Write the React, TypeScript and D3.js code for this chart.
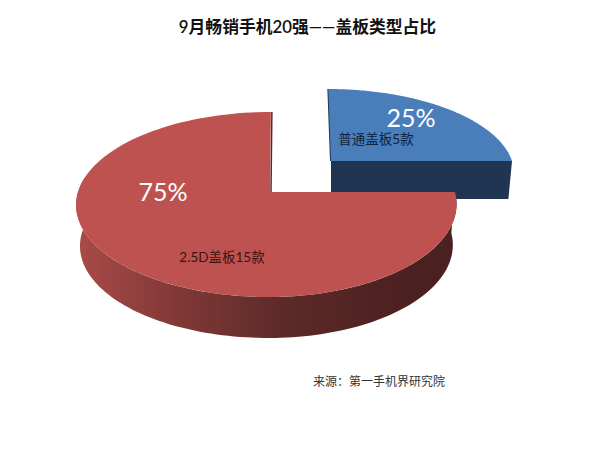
import React from "react";
import * as d3 from "d3";

// data
const categories = ["普通盖板5款", "2.5D盖板15款"];
const modelCounts = [5, 15];
const percentLabels = ["25%", "75%"];
const titleText = "9月畅销手机20强——盖板类型占比";
const sourceText = "来源：第一手机界研究院";

const topColors = ["#4a7ebb", "#be5250"];
const edgeColors = ["#1f3552", "#5c2a28"];

// each slice is pulled out of the pie so it has its own apex
const apexes = [
  { cx: 331, cy: 161, rxLeft: 181, rxRight: 181, ry: 81.7, lean: -3, depth: 38 },
  { cx: 270, cy: 192, rxLeft: 192, rxRight: 185, ry: 90.8, lean: 1, depth: 41 },
];
const perspective = 0.135;
const wallShrink = 0.98;

type Apex = (typeof apexes)[number];

// flat disc coordinates -> screen, near side of the disc drawn larger
const project = (a: Apex, theta: number, r: number, drop = false): [number, number] => {
  const u = r * Math.sin(theta);
  const v = -r * Math.cos(theta);
  const w = 1 - perspective * v;
  const rx = u < 0 ? a.rxLeft : a.rxRight;
  const x = (rx * u - a.lean * v) / w;
  const y = (a.ry * v) / w;
  return drop ? [a.cx + x * wallShrink, a.cy + y + a.depth] : [a.cx + x, a.cy + y];
};

const sampleAngles = (start: number, end: number) => {
  const scale = d3.scaleLinear().domain([0, 120]).range([start, end]);
  return d3.range(0, 121).map((i) => scale(i));
};

const App: React.FC = () => {
  const slices = d3.pie<number>().sort(null)(modelCounts);
  const line = d3.line();
  const font = "Lato, 'Noto Sans CJK SC', sans-serif";

  const blue = slices[0];
  const red = slices[1];

  const topPath = (a: Apex, start: number, end: number) =>
    line([
      project(a, 0, 0),
      ...sampleAngles(start, end).map((t) => project(a, t, 1)),
    ]) + "Z";

  // front face of the blue slice: the cut along its 3 o'clock edge
  const blueWall =
    line([
      project(apexes[0], blue.endAngle, 0),
      project(apexes[0], blue.endAngle, 1),
      project(apexes[0], blue.endAngle, 1, true),
      project(apexes[0], blue.endAngle, 0, true),
    ]) + "Z";

  // round outer wall of the red slice, only the part facing the viewer
  const wallAngles = sampleAngles(red.startAngle, Math.PI * 1.55);
  const redWall =
    line([
      ...wallAngles.map((t) => project(apexes[1], t, 1)),
      ...[...wallAngles].reverse().map((t) => project(apexes[1], t, 1, true)),
    ]) + "Z";

  return (
    <svg
      width={600}
      height={450}
      style={{ position: "absolute", left: 0, top: 0, background: "#fff" }}
    >
      <defs>
        <linearGradient id="redWall" gradientUnits="userSpaceOnUse" x1={76} x2={457} y1={0} y2={0}>
          <stop offset="0%" stopColor="#aa4b49" />
          <stop offset="28%" stopColor="#7e3836" />
          <stop offset="55%" stopColor="#5c2a28" />
          <stop offset="85%" stopColor="#4c2120" />
          <stop offset="100%" stopColor="#4a2020" />
        </linearGradient>
      </defs>

      <text x={307.5} y={33} textAnchor="middle" fontFamily={font} fontSize={16.8} fontWeight={600} fill="#111">
        {titleText}
      </text>

      <path d={blueWall} fill={edgeColors[0]} />
      <line
        x1={project(apexes[0], blue.startAngle, 1)[0]}
        y1={project(apexes[0], blue.startAngle, 1)[1]}
        x2={project(apexes[0], 0, 0)[0]}
        y2={project(apexes[0], 0, 0)[1]}
        stroke={edgeColors[0]}
        strokeWidth={2}
      />
      <path d={topPath(apexes[0], blue.startAngle, blue.endAngle)} fill={topColors[0]} />

      <path d={redWall} fill="url(#redWall)" />
      <line
        x1={project(apexes[1], red.endAngle, 1)[0] + 1}
        y1={project(apexes[1], red.endAngle, 1)[1]}
        x2={project(apexes[1], 0, 0)[0] + 1}
        y2={project(apexes[1], 0, 0)[1]}
        stroke={edgeColors[1]}
        strokeWidth={1.5}
      />
      <path d={topPath(apexes[1], red.startAngle, red.endAngle)} fill={topColors[1]} />

      <text x={411} y={127} textAnchor="middle" fontFamily={font} fontSize={25} fill="#fff">
        {percentLabels[0]}
      </text>
      <text x={163} y={201} textAnchor="middle" fontFamily={font} fontSize={25} fill="#fff">
        {percentLabels[1]}
      </text>
      <text x={376} y={144} textAnchor="middle" fontFamily={font} fontSize={13.5} fill="#10233c">
        {categories[0]}
      </text>
      <text x={222} y={262} textAnchor="middle" fontFamily={font} fontSize={13.5} fill="#3c1412">
        {categories[1]}
      </text>
      <text x={379} y={386} textAnchor="middle" fontFamily={font} fontSize={12} fill="#333">
        {sourceText}
      </text>
    </svg>
  );
};

export default App;
